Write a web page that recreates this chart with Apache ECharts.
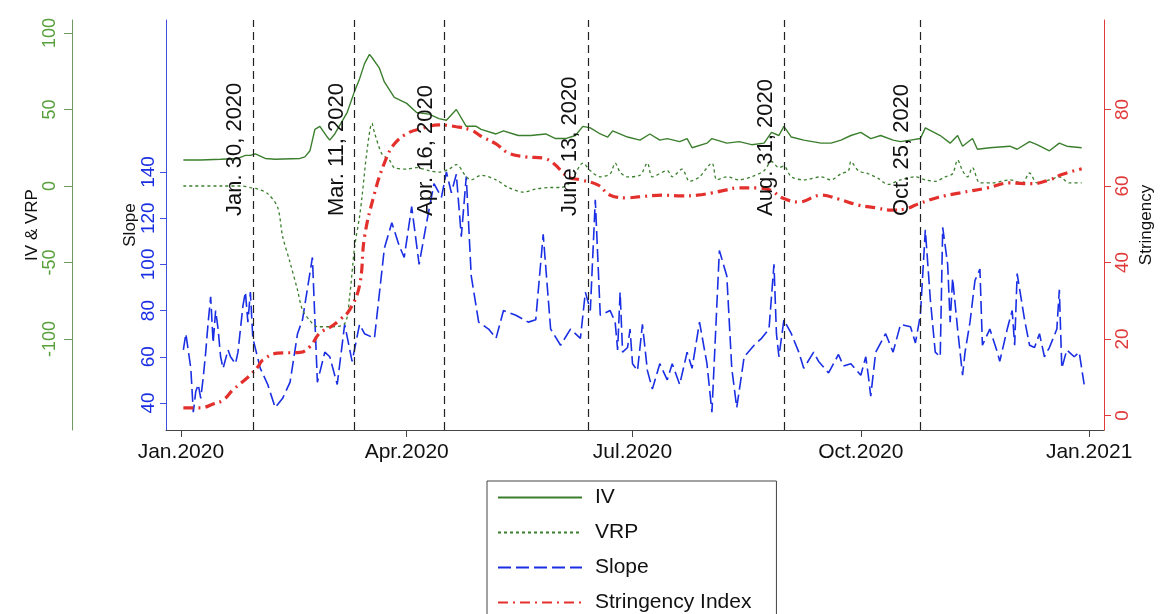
<!DOCTYPE html>
<html>
<head>
<meta charset="utf-8">
<script src="https://cdn.jsdelivr.net/npm/echarts@6/dist/echarts.min.js"></script>
<style>
html,body{margin:0;padding:0;background:#fff;}
#chart{width:1164px;height:614px;}
</style>
</head>
<body>
<div id="chart"></div>
<script>
// ---- Data (day offset from 2020-01-01, value) ----
const ivPoints = [[1,17],[8,17],[16,17.5],[23,18],[26,20],[28,20],[30,21],[34,18],[38,17.5],[48,18],[50,19],[52,23],[54,37],[56,39],[59,32],[60,30],[62,34],[67,48],[70,62],[72,70],[74,80],[76,86],[77,84],[80,77],[82,68],[86,58],[91,54],[95,48],[100,47],[104,44],[107,43],[111,50],[115,39],[119,39],[121,37],[127,34],[130,36],[134,34],[136,33],[141,33],[147,34],[151,31],[155,31],[159,33],[162,39],[165,38],[169,34],[172,32],[174,36],[180,32],[185,30],[189,34],[193,30],[196,31],[201,29],[204,31],[206,25],[212,28],[214,31],[220,28],[225,29],[230,27],[235,28],[238,35],[241,33],[243,39],[246,32],[251,30],[258,28],[262,28],[266,30],[270,33],[274,35],[278,31],[282,33],[287,30],[290,29],[294,30],[298,31],[300,38],[306,33],[310,28],[313,33],[315,26],[319,31],[321,24],[326,25],[334,26],[337,24],[342,29],[345,27],[350,23],[354,28],[357,26],[363,25]];
const vrpPoints = [[1,0],[16,0],[24,0],[28,-1],[31,-2],[35,-5],[39,-14],[41,-33],[44,-50],[47,-68],[49,-81],[52,-88],[55,-92],[60,-92],[66,-90],[68,-72],[70,-40],[72,-20],[73,-7],[75,23],[77,41],[78,35],[81,21],[84,17],[86,12],[91,11],[95,12],[100,10],[104,9],[108,11],[111,14],[115,6],[117,4],[121,7],[127,4],[132,-1],[138,-4],[143,-2],[149,-1],[153,-1],[156,1],[158,5],[162,15],[165,10],[169,6],[173,8],[175,15],[177,9],[180,6],[185,7],[188,15],[190,6],[196,10],[198,6],[202,11],[205,3],[209,6],[214,15],[216,4],[220,6],[225,4],[230,6],[235,10],[238,16],[241,12],[243,13],[246,6],[251,4],[258,6],[262,4],[266,8],[269,10],[270,16],[273,10],[277,8],[281,5],[285,1],[290,4],[296,6],[300,4],[304,3],[308,6],[311,8],[313,17],[315,10],[317,6],[319,12],[322,2],[327,2],[334,4],[339,2],[342,8.5],[345,2],[350,4],[354,6],[358,2],[363,2]];
const slopePoints = [[1,63],[2,70],[4,55],[5,36],[6,45],[7,48],[8,42],[9,51],[10,62],[11,75],[12,86],[13,66],[14,80],[15,72],[16,60],[17,55],[19,63],[20,60],[22,57],[23,62],[24,72],[25,82],[26,88],[27,75],[28,88],[29,68],[32,55],[35,48],[38,38],[41,42],[44,49],[47,70],[49,76],[53,103],[55,49],[58,62],[60,60],[63,48],[66,74],[69,58],[72,74],[74,70],[78,68],[82,107],[85,118],[88,108],[90,103],[93,125],[96,100],[99,118],[102,135],[105,129],[107,140],[109,131],[111,139],[113,112],[115,138],[117,95],[120,75],[124,72],[127,68],[130,80],[135,78],[140,75],[143,76],[146,113],[149,72],[153,65],[157,72],[161,68],[163,88],[165,80],[167,128],[169,78],[173,80],[175,75],[176,63],[177,88],[178,62],[180,64],[181,72],[182,57],[184,54],[186,74],[188,54],[190,46],[193,57],[196,50],[198,57],[201,48],[204,62],[206,55],[209,75],[212,57],[214,36],[217,106],[220,95],[222,55],[224,38],[227,60],[231,65],[234,68],[237,72],[239,100],[240,70],[241,60],[243,76],[246,70],[249,62],[251,55],[255,62],[257,58],[261,53],[265,61],[267,56],[270,57],[274,52],[276,60],[277,52],[278,43],[280,62],[284,70],[287,62],[290,74],[294,73],[296,66],[298,78],[300,115],[302,85],[304,62],[306,60],[307,116],[309,100],[310,75],[311,94],[313,72],[315,52],[316,62],[318,75],[320,93],[322,98],[323,65],[326,72],[329,62],[330,58],[333,72],[335,80],[336,65],[337,96],[340,76],[342,65],[344,64],[346,70],[348,60],[350,64],[353,72],[354,89],[355,55],[357,63],[360,60],[362,62],[364,48]];
const stringencyPoints = [[1,2],[8,2],[13,3],[17,4],[21,6.7],[27,10],[31,12.7],[33,14.5],[39,16.3],[48,16.5],[52,18],[56,21.6],[60,23],[64,25],[68,27.6],[72,34],[74,46.7],[78,58],[82,66],[86,71],[92,74],[97,75],[104,76],[111,75.5],[117,74.6],[121,73],[127,71],[132,68.6],[139,67.6],[146,67.3],[150,66],[156,62.4],[161,61.6],[168,60.3],[173,57.6],[180,56.9],[185,57.2],[194,57.6],[202,57.4],[208,57.6],[214,58.2],[220,59],[224,59.5],[232,59.5],[238,58.8],[242,57],[249,55.8],[258,57.6],[265,56.6],[273,55],[280,54.3],[286,53.7],[292,54],[296,55],[298,55.5],[305,57],[314,58.2],[325,59.5],[334,60.8],[343,60.6],[350,61.6],[355,63],[363,64.5]];

const eventDates = ['2020-01-30','2020-03-11','2020-04-16','2020-06-13','2020-08-31','2020-10-25'];
const eventLabels = ['Jan. 30, 2020','Mar. 11, 2020','Apr. 16, 2020','June 13, 2020','Aug. 31, 2020','Oct. 25, 2020'];
const xTickDates = ['2020-01-01','2020-04-01','2020-07-01','2020-10-01','2021-01-01'];
const slopeTicks = [40,60,80,100,120,140];
const ivTicks = [-100,-50,0,50,100];
const stringencyTicks = [0,20,40,60,80];

const DAY = 86400000;
const BASE = Date.UTC(2020,0,1);
const toTs = s => { const p = s.split('-').map(Number); return Date.UTC(p[0], p[1]-1, p[2]); };
const conv = pts => pts.map(p => [BASE + p[0]*DAY, p[1]]);
const MON = ['Jan','Feb','Mar','Apr','May','Jun','Jul','Aug','Sep','Oct','Nov','Dec'];

const FONT = 'Liberation Sans, Arial, sans-serif';
const GREEN = '#3b7f2e';
const GREEN_AX = '#6f9a62';
const BLUE = '#1a2fe3';
const RED = '#e3302c';

const chart = echarts.init(document.getElementById('chart'), null, {renderer: 'canvas'});

const option = {
  animation: false,
  backgroundColor: '#fff',
  grid: {left: 166, right: 60, top: 20, bottom: 184},
  legend: {
    orient: 'vertical',
    left: 487, top: 481, height: 160,
    itemWidth: 84, itemHeight: 14, itemGap: 10,
    padding: [4, 25, 4, 10],
    borderColor: '#444', borderWidth: 1,
    itemStyle: {opacity: 0},
    textStyle: {fontFamily: FONT, fontSize: 21, color: '#111', lineHeight: 25, padding: [0,0,0,8]},
    data: ['IV','VRP','Slope','Stringency Index']
  },
  xAxis: {
    type: 'value',
    min: Date.UTC(2019,11,26),
    max: Date.UTC(2021,0,7),
    splitLine: {show: false},
    axisLine: {onZero: false, lineStyle: {color: '#444', width: 1}},
    axisTick: {show: true, length: 7, lineStyle: {color: '#444'}, customValues: xTickDates.map(toTs)},
    axisLabel: {
      customValues: xTickDates.map(toTs),
      fontFamily: FONT, fontSize: 21, color: '#111', margin: 12,
      formatter: v => { const d = new Date(v); return MON[d.getUTCMonth()] + '.' + d.getUTCFullYear(); }
    }
  },
  yAxis: [
    {
      type: 'value', position: 'left', min: 28.3, max: 205.8,
      name: 'Slope', nameLocation: 'middle', nameGap: 27, nameRotate: 90, nameMoveOverlap: false,
      nameTextStyle: {fontFamily: FONT, fontSize: 17, color: '#111'},
      splitLine: {show: false},
      axisLine: {show: true, onZero: false, lineStyle: {color: '#3f50dc'}},
      axisTick: {show: true, length: 6, lineStyle: {color: '#3f50dc'}, customValues: slopeTicks},
      axisLabel: {customValues: slopeTicks, rotate: 90, margin: 8, fontFamily: FONT, fontSize: 19, color: BLUE}
    },
    {
      type: 'value', position: 'left', offset: 94, min: -159.5, max: 108.5,
      name: 'IV & VRP', nameLocation: 'middle', nameGap: 31, nameRotate: 90, nameMoveOverlap: false,
      nameTextStyle: {fontFamily: FONT, fontSize: 17, color: '#111'},
      splitLine: {show: false},
      axisLine: {show: true, onZero: false, lineStyle: {color: GREEN_AX}},
      axisTick: {show: true, length: 8, lineStyle: {color: GREEN_AX}, customValues: ivTicks},
      axisLabel: {customValues: ivTicks, rotate: 90, margin: 13, fontFamily: FONT, fontSize: 18, color: '#58a03c'}
    },
    {
      type: 'value', position: 'right', min: -3.8, max: 103.4,
      name: 'Stringency', nameLocation: 'middle', nameGap: 34, nameRotate: 90, nameMoveOverlap: false,
      nameTextStyle: {fontFamily: FONT, fontSize: 17, color: '#111'},
      splitLine: {show: false},
      axisLine: {show: true, onZero: false, lineStyle: {color: '#e03a3a'}},
      axisTick: {show: true, length: 7, lineStyle: {color: '#e03a3a'}, customValues: stringencyTicks},
      axisLabel: {customValues: stringencyTicks, rotate: 90, margin: 9, fontFamily: FONT, fontSize: 19, color: '#e03a3a'}
    }
  ],
  series: [
    {
      name: 'Slope', type: 'line', yAxisIndex: 0, data: conv(slopePoints),
      symbol: 'none', showSymbol: false, color: BLUE,
      lineStyle: {color: BLUE, width: 1.6, type: [13, 5]}, z: 2
    },
    {
      name: 'IV', type: 'line', yAxisIndex: 1, data: conv(ivPoints),
      symbol: 'none', showSymbol: false, color: GREEN,
      lineStyle: {color: GREEN, width: 1.4}, z: 3
    },
    {
      name: 'VRP', type: 'line', yAxisIndex: 1, data: conv(vrpPoints),
      symbol: 'none', showSymbol: false, color: GREEN, smooth: 0.3,
      lineStyle: {color: GREEN, width: 1.3, type: [3, 3]}, z: 3
    },
    {
      name: 'Stringency Index', type: 'line', yAxisIndex: 2, data: conv(stringencyPoints),
      symbol: 'none', showSymbol: false, color: RED, smooth: 0.4,
      lineStyle: {color: RED, width: 3.2, type: [10, 5, 2, 5]}, z: 4,
      markLine: {
        silent: true, symbol: 'none', animation: false,
        lineStyle: {color: '#222', width: 1.2, type: [8, 5]},
        label: {
          show: true, position: 'insideStartTop', distance: [214, 7],
          fontFamily: FONT, fontSize: 22, color: '#111',
          formatter: p => eventLabels[p.dataIndex]
        },
        data: eventDates.map(d => ({xAxis: toTs(d)}))
      }
    }
  ]
};
chart.setOption(option);
</script>
</body>
</html>
